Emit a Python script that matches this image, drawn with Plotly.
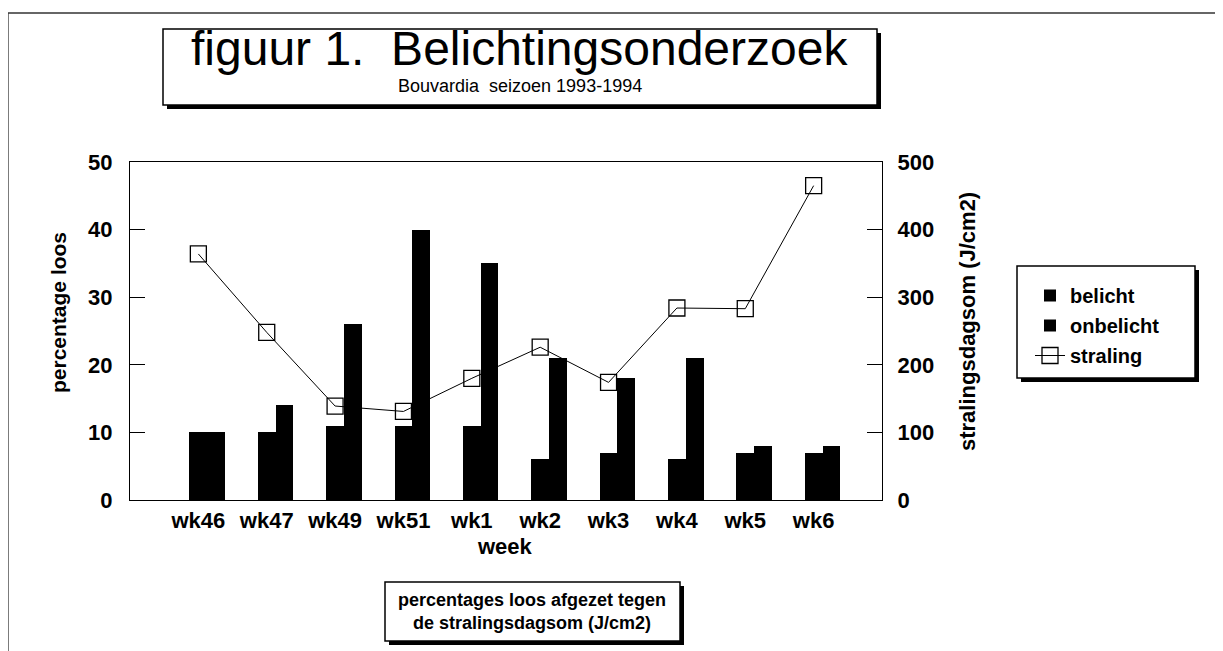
import plotly.graph_objects as go

weeks = ["wk46", "wk47", "wk49", "wk51", "wk1", "wk2", "wk3", "wk4", "wk5", "wk6"]
belicht = [10, 10, 11, 11, 11, 6, 7, 6, 7, 7]
onbelicht = [10, 14, 26, 40, 35, 21, 18, 21, 8, 8]
straling = [364, 248, 139, 131, 180, 226, 174, 284, 283, 465]

left_ticks = [0, 10, 20, 30, 40, 50]
right_ticks = [0, 100, 200, 300, 400, 500]

# page body margin offset (8px) -> figure coords = reference coords - 8
OFF = 8
W_FIG, H_FIG = 1223 - OFF, 651 - OFF
L, R, T, B = 130, 882, 162, 500          # plot area in reference pixel coords
PW, PH = R - L, B - T


def px(xp):
    return (xp - L) / PW


def py(yp):
    return (B - yp) / PH


FONT = "Liberation Sans, Arial, sans-serif"

fig = go.Figure()
fig.add_trace(go.Bar(
    x=weeks, y=belicht, name="belicht", marker=dict(color="#000000", line=dict(width=0)),
    width=0.26, offset=-0.13, legendgroup="a",
))
fig.add_trace(go.Bar(
    x=weeks, y=onbelicht, name="onbelicht", marker=dict(color="#000000", line=dict(width=0)),
    width=0.26, offset=0.13, legendgroup="b",
))
fig.add_trace(go.Scatter(
    x=weeks, y=straling, name="straling", yaxis="y2", mode="lines+markers",
    line=dict(color="#000000", width=1),
    marker=dict(symbol="square-open", size=16, color="#000000", line=dict(width=1.3)),
    legendgroup="c",
))

shapes = []
shapes.append(dict(type="line", xref="paper", yref="paper", x0=px(8), x1=px(8), y0=py(13), y1=py(651),
                   line=dict(color="#333", width=1.3)))
shapes.append(dict(type="line", xref="paper", yref="paper", x0=px(8), x1=px(1223), y0=py(13), y1=py(13),
                   line=dict(color="#333", width=1.3)))


def boxed(x0, y0, x1, y1, sh=4):
    shapes.append(dict(type="rect", xref="paper", yref="paper", x0=px(x0 + sh), x1=px(x1 + sh),
                       y0=py(y0 + sh), y1=py(y1 + sh), fillcolor="#000", line=dict(width=0)))
    shapes.append(dict(type="rect", xref="paper", yref="paper", x0=px(x0), x1=px(x1),
                       y0=py(y0), y1=py(y1), fillcolor="#fff", line=dict(color="#000", width=1.5)))


boxed(163, 29, 877, 105)
boxed(385, 582, 680, 641)
boxed(1017, 266, 1195, 378)


def ann(text, x, y, size, bold=False, angle=0):
    return dict(text=text, x=px(x), y=py(y), xref="paper", yref="paper", showarrow=False,
                xanchor="center", yanchor="middle", textangle=angle,
                font=dict(family=FONT, size=size, color="#000", weight="bold" if bold else "normal"))


annotations = [
    ann("figuur 1.  Belichtingsonderzoek", 520, 49, 48),
    ann("Bouvardia  seizoen 1993-1994", 520, 86, 18),
    ann("percentage loos", 58, 313, 21, bold=True, angle=-90),
    ann("stralingsdagsom (J/cm2)", 967, 322, 22, bold=True, angle=-90),
    ann("week", 505, 546, 22, bold=True),
    ann("percentages loos afgezet tegen<br>de stralingsdagsom (J/cm2)", 532, 611, 18, bold=True),
]

fig.update_layout(
    width=W_FIG, height=H_FIG,
    margin=dict(l=L - OFF, r=W_FIG - (R - OFF), t=T - OFF, b=H_FIG - (B - OFF), pad=0),
    paper_bgcolor="#ffffff", plot_bgcolor="#ffffff",
    barmode="overlay", bargap=0,
    font=dict(family=FONT, color="#000"),
    showlegend=True,
    legend=dict(x=px(1030), y=py(276), xanchor="left", yanchor="top", bgcolor="rgba(0,0,0,0)",
                borderwidth=0, font=dict(family=FONT, size=20, color="#000", weight="bold"),
                tracegroupgap=1, itemwidth=30),
    xaxis=dict(type="category", range=[-1, 10], showline=True, mirror=True, linecolor="#000", linewidth=1.2,
               ticks="", showgrid=False, zeroline=False,
               tickfont=dict(family=FONT, size=22, color="#000", weight="bold")),
    yaxis=dict(range=[0, 50], tickvals=left_ticks, showline=True, linecolor="#000", linewidth=1.2,
               ticks="inside", ticklen=15, tickcolor="#000", showgrid=False, zeroline=False,
               tickfont=dict(family=FONT, size=22, color="#000", weight="bold"),
               ticklabelstandoff=12),
    yaxis2=dict(range=[0, 500], tickvals=right_ticks, overlaying="y", side="right", showline=True,
                linecolor="#000", linewidth=1.2, ticks="inside", ticklen=15, tickcolor="#000",
                showgrid=False, zeroline=False,
                tickfont=dict(family=FONT, size=22, color="#000", weight="bold"),
                ticklabelstandoff=10),
    shapes=shapes,
    annotations=annotations,
)

fig.write_html("out.html")
